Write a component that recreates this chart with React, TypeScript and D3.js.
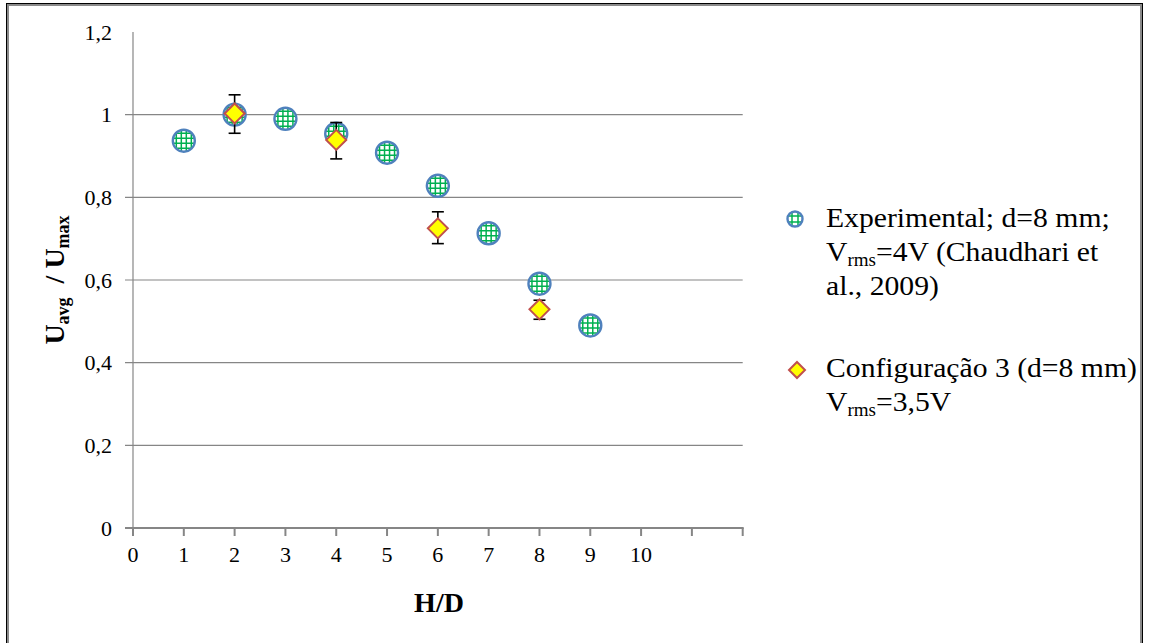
import React from "react";
import * as d3 from "d3";

const xTicks = [0, 1, 2, 3, 4, 5, 6, 7, 8, 9, 10, 11, 12];
const xTickLabels = ["0", "1", "2", "3", "4", "5", "6", "7", "8", "9", "10", "", ""];
const yTicks = [0, 0.2, 0.4, 0.6, 0.8, 1.0, 1.2];
const yTickLabels = ["0", "0,2", "0,4", "0,6", "0,8", "1", "1,2"];

const expX = [1, 2, 3, 4, 5, 6, 7, 8, 9];
const expY = [0.937, 1.0, 0.99, 0.954, 0.908, 0.828, 0.713, 0.591, 0.49];

const cfgX = [2, 4, 6, 8];
const cfgY = [1.003, 0.939, 0.725, 0.529];
const cfgErrLow = [0.955, 0.893, 0.688, 0.505];
const cfgErrHigh = [1.048, 0.981, 0.765, 0.551];

const W = 1149;
const H = 643;
const FONT = "'Liberation Serif', 'DejaVu Serif', serif";

const x = d3.scaleLinear().domain([0, 12]).range([133, 742.7]);
const y = d3.scaleLinear().domain([0, 1.2]).range([528, 32]);

function GridCircle({ cx, cy, r, id }: { cx: number; cy: number; r: number; id: string }) {
  const offs = r > 9 ? [-7.5, -2.5, 2.5, 7.5] : [-3, 3];
  return (
    <g transform={`translate(${cx},${cy})`}>
      <defs>
        <clipPath id={id}>
          <circle r={r} />
        </clipPath>
      </defs>
      <circle r={r} fill="#fff" />
      <g clipPath={`url(#${id})`} stroke="#00b050" strokeWidth={1.5}>
        {offs.map((o, i) => (
          <line key={"v" + i} x1={o} x2={o} y1={-r} y2={r} />
        ))}
        {offs.map((o, i) => (
          <line key={"h" + i} y1={o} y2={o} x1={-r} x2={r} />
        ))}
      </g>
      <circle r={r} fill="none" stroke="#4f81bd" strokeWidth={2.4} />
    </g>
  );
}

function Diamond({ cx, cy, s }: { cx: number; cy: number; s: number }) {
  return (
    <path
      d={`M${cx},${cy - s}L${cx + s},${cy}L${cx},${cy + s}L${cx - s},${cy}Z`}
      fill="#ffff00"
      stroke="#c0504d"
      strokeWidth={2}
    />
  );
}

export default function App() {
  return (
    <svg
      width={W}
      height={H}
      style={{ position: "absolute", left: 0, top: 0, background: "#fff" }}
      fontFamily={FONT}
    >
      <rect x={0} y={0} width={W} height={H} fill="#fff" />
      {/* frame */}
      <rect x={6.5} y={3.5} width={1136} height={700} fill="none" stroke="#000" strokeWidth={1} />
      <rect x={8} y={5} width={1133} height={700} fill="none" stroke="#8a8a8a" strokeWidth={2} />

      {/* gridlines */}
      {yTicks.filter((t) => t > 0 && t < 1.1).map((t) => (
        <line key={t} x1={125} x2={742.7} y1={y(t)} y2={y(t)} stroke="#868686" strokeWidth={1.2} />
      ))}
      {/* y axis */}
      <line x1={x(0)} x2={x(0)} y1={y(1.2)} y2={y(0)} stroke="#868686" strokeWidth={1.2} />
      {yTicks.map((t, i) => (
        <text key={t} x={112} y={y(t)} dy="0.35em" textAnchor="end" fontSize={22} fill="#000">
          {yTickLabels[i]}
        </text>
      ))}
      {/* x axis */}
      <line x1={125} x2={x(12) + 1} y1={y(0)} y2={y(0)} stroke="#868686" strokeWidth={2} />
      {xTicks.map((t, i) => (
        <g key={t}>
          <line x1={x(t)} x2={x(t)} y1={y(0)} y2={y(0) + 8} stroke="#868686" strokeWidth={2} />
          <text x={x(t)} y={562} textAnchor="middle" fontSize={22} fill="#000">
            {xTickLabels[i]}
          </text>
        </g>
      ))}

      {/* axis titles */}
      <text x={439} y={612} textAnchor="middle" fontSize={28} fontWeight="bold" fill="#000">
        H/D
      </text>
      <text
        transform={`translate(64,280) rotate(-90)`}
        textAnchor="middle"
        fontSize={28}
        fontWeight="bold"
        fill="#000"
      >
        <tspan>U</tspan>
        <tspan fontSize={18} dy={5}>avg</tspan>
        <tspan dy={-5}>{"\u00a0\u00a0/ U"}</tspan>
        <tspan fontSize={18} dy={5}>max</tspan>
      </text>

      {/* experimental series */}
      {expX.map((v, i) => (
        <GridCircle key={"e" + i} cx={x(v)} cy={y(expY[i])} r={11} id={"clipE" + i} />
      ))}

      {/* configuration series with error bars */}
      {cfgX.map((v, i) => {
        const cx = x(v);
        return (
          <g key={"c" + i}>
            <line x1={cx} x2={cx} y1={y(cfgErrLow[i])} y2={y(cfgErrHigh[i])} stroke="#000" strokeWidth={1.6} />
            <line x1={cx - 6} x2={cx + 6} y1={y(cfgErrLow[i])} y2={y(cfgErrLow[i])} stroke="#000" strokeWidth={1.6} />
            <line x1={cx - 6} x2={cx + 6} y1={y(cfgErrHigh[i])} y2={y(cfgErrHigh[i])} stroke="#000" strokeWidth={1.6} />
            <Diamond cx={cx} cy={y(cfgY[i])} s={10} />
          </g>
        );
      })}

      {/* legend */}
      <GridCircle cx={795} cy={219} r={7.5} id="clipLeg" />
      <g fontSize={28} fill="#000" transform="translate(826,0) scale(1.06,1)">
        <text x={0} y={227}>Experimental; d=8 mm;</text>
        <text x={0} y={261}>
          <tspan>V</tspan>
          <tspan fontSize={18} dy={5}>rms</tspan>
          <tspan dy={-5}>=4V (Chaudhari et</tspan>
        </text>
        <text x={0} y={295}>al., 2009)</text>
        <text x={0} y={377}>Configuração 3 (d=8 mm)</text>
        <text x={0} y={411}>
          <tspan>V</tspan>
          <tspan fontSize={18} dy={5}>rms</tspan>
          <tspan dy={-5}>=3,5V</tspan>
        </text>
      </g>
      <Diamond cx={797} cy={370} s={8} />
    </svg>
  );
}
